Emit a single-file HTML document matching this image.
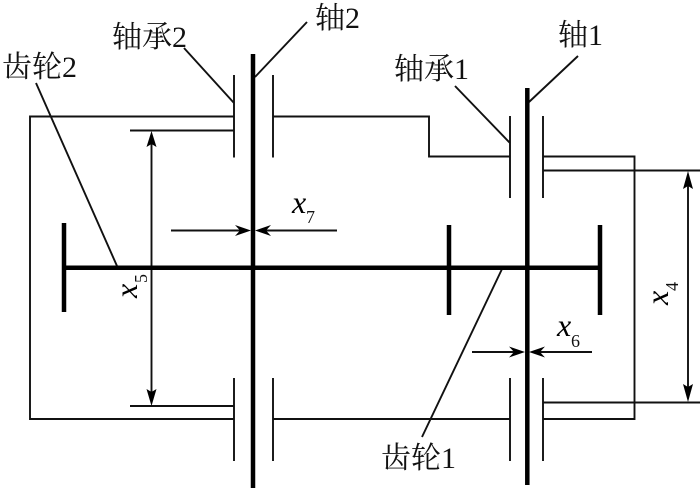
<!DOCTYPE html>
<html>
<head>
<meta charset="utf-8">
<style>
html,body{margin:0;padding:0;background:#fff;width:700px;height:489px;overflow:hidden}
svg{display:block}
.cn{font-family:"Liberation Serif","Noto Serif CJK SC",serif;font-size:30px;fill:#111}
.v{font-family:"Liberation Serif",serif;font-style:italic;font-size:32px;fill:#000}
.s{font-family:"Liberation Serif",serif;font-size:18px;fill:#111}
</style>
</head>
<body>
<svg width="700" height="489" viewBox="0 0 700 489" xmlns="http://www.w3.org/2000/svg">
<rect width="700" height="489" fill="#fff"/>
<!-- housing -->
<g fill="none" stroke="#111" stroke-width="1.900">
<path d="M234 116.500H30V419H234"/>
<path d="M273 116.500H429V156.500H510"/>
<path d="M543 156.500H634.500V419H543"/>
<path d="M273 419H510"/>
<!-- bearings -->
<path d="M234 75V157.500M273 75V157.500M234 378V461M273 378V461"/>
<path d="M510 116V198M543 116V198M510 378V461M543 378V461"/>
<!-- extension lines -->
<path d="M130 130.500H234M130 406H234M543 170.500H700M543 402.500H700"/>
<!-- dimension lines -->
<path d="M151.500 140V396M688 180V393"/>
<path d="M171 230.500H240M266 230.500H337M472 352H514M540 352H592"/>
<!-- leaders -->
<path d="M307 22L255 77M184 48L234 103M36 83L117 266M578 56L529 102M455 86L510 143M502 269L422 437"/>
</g>
<!-- shafts and gears -->
<g fill="none" stroke="#000" stroke-width="4.500">
<path d="M253 54V488M527.300 88V485"/>
<path d="M62 267.700H600"/>
<path d="M64 223V312M449 225V315M600 225V315"/>
</g>
<!-- arrowheads -->
<g fill="#000">
<path d="M151.500 131L146.500 147L151.500 144L156.500 147Z"/>
<path d="M151.500 406L146.500 389L151.500 392L156.500 389Z"/>
<path d="M688 171L683 189L688 186L693 189Z"/>
<path d="M688 402L683 384L688 387L693 384Z"/>
<path d="M251 230.500L235 225L240 230.500L235 236Z"/>
<path d="M255 230.500L271 225L266 230.500L271 236Z"/>
<path d="M525 352L509 346.500L514 352L509 357.500Z"/>
<path d="M529 352L545 346.500L540 352L545 357.500Z"/>
</g>
<!-- labels -->
<text class="cn" x="112" y="47">轴承2</text>
<text class="cn" x="2" y="77">齿轮2</text>
<text class="cn" x="315" y="28">轴2</text>
<text class="cn" x="558" y="45">轴1</text>
<text class="cn" x="394" y="79">轴承1</text>
<text class="cn" x="381" y="468">齿轮1</text>
<text class="v" x="292" y="213">x</text>
<text class="s" x="306" y="223">7</text>
<text class="v" x="557" y="336">x</text>
<text class="s" x="571" y="347">6</text>
<text class="v" transform="translate(137 298) rotate(-90)">x</text>
<text class="s" transform="translate(147 283) rotate(-90)">5</text>
<text class="v" transform="translate(668 305) rotate(-90)">x</text>
<text class="s" transform="translate(678 291) rotate(-90)">4</text>
</svg>
</body>
</html>
